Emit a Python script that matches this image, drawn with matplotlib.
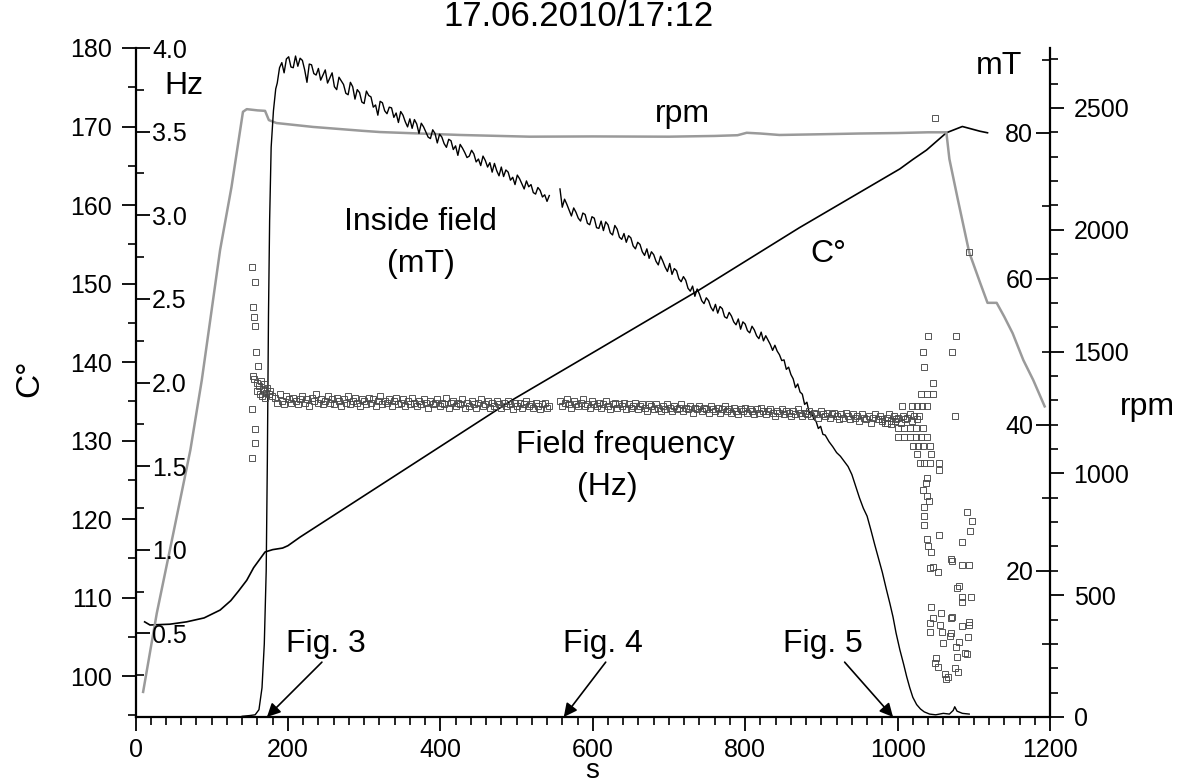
import matplotlib.pyplot as plt
import numpy as np
from matplotlib.ticker import MultipleLocator, FixedLocator

plt.rcParams['font.family'] = ['Liberation Sans', 'DejaVu Sans']

# ---- data ----
# rotor speed (rpm)
rpm_t = [10, 28, 50, 72, 87, 111, 126, 141, 146, 160, 170, 175, 185, 233, 298, 321, 426, 517,
         600, 700, 760, 790, 802, 820, 845, 900, 950, 1000, 1040, 1064, 1068, 1079, 1094, 1108,
         1118, 1130, 1140, 1151, 1165, 1178, 1193]
rpm_v = [103, 427, 760, 1096, 1383, 1917, 2176, 2484, 2495, 2490, 2488, 2450, 2438, 2422, 2406,
         2401, 2389, 2382, 2383, 2382, 2385, 2388, 2398, 2395, 2389, 2392, 2395, 2397, 2400, 2400,
         2290, 2125, 1907, 1785, 1700, 1700, 1643, 1575, 1465, 1383, 1275]

# temperature (C°)
temp_t = [12, 19, 45, 67, 90, 111, 125, 135, 146, 155, 170, 180, 193, 200, 216, 495, 609, 740,
          871, 1003, 1020, 1038, 1064, 1085, 1108, 1118]
temp_v = [106.9, 106.5, 106.6, 106.9, 107.4, 108.4, 109.6, 110.8, 112.2, 113.8, 115.8, 116.1,
          116.3, 116.6, 117.7, 135.2, 141.7, 149.2, 157.1, 164.6, 165.8, 167.0, 169.2, 170.0,
          169.4, 169.2]

# inside field (mT)
field_rise_t = [140, 150, 157, 162, 166, 169, 171.5, 173, 174.5, 176, 178, 181, 184]
field_rise_v = [0.1, 0.2, 0.3, 1.0, 4.0, 10, 20, 35, 55, 68, 78, 83, 86.0]
field_a_start = 186  # every 3 s up to 543
field_a = [86.8, 88.9, 89.6, 88.2, 90.1, 90.4, 89.0, 88.9, 90.5, 89.1,
           90.2, 89.9, 88.6, 86.9, 89.4, 89.3, 88.1, 87.9, 88.8, 87.2,
           87.9, 88.6, 86.8, 87.5, 88.2, 86.3, 85.9, 87.6, 87.1, 86.6,
           85.4, 85.2, 86.9, 86.3, 84.6, 85.9, 85.5, 84.2, 84.0, 85.7,
           85.1, 84.9, 83.5, 83.8, 82.4, 84.3, 84.1, 83.0, 82.6, 83.5,
           83.4, 82.1, 82.7, 81.4, 82.9, 82.4, 81.5, 80.8, 81.9, 80.6,
           81.8, 81.2, 79.9, 81.3, 80.8, 80.1, 79.4, 79.2, 80.4, 79.9,
           78.6, 79.8, 79.4, 78.5, 78.0, 79.1, 78.9, 77.7, 78.2, 76.9,
           78.4, 77.9, 77.3, 76.6, 76.8, 77.6, 77.1, 76.0, 76.4, 75.5,
           76.8, 76.2, 75.3, 75.9, 74.6, 75.8, 74.8, 74.1, 75.3, 74.0,
           74.9, 74.6, 73.5, 73.9, 72.9, 74.2, 73.7, 73.0, 72.3, 73.4,
           72.6, 72.9, 71.8, 71.6, 72.5, 72.1, 71.2, 71.5, 70.6, 71.4]
field_b_start = 557  # every 3 s up to 902
field_b = [72.3, 69.8, 70.9, 70.2, 69.4, 68.6, 69.7, 69.1, 68.3, 67.9,
           69.0, 68.8, 67.6, 67.4, 68.5, 68.3, 67.0, 66.9, 67.9, 66.6,
           67.8, 67.4, 66.3, 66.0, 67.3, 66.8, 65.7, 65.4, 66.2, 65.0,
           65.9, 65.6, 64.5, 64.1, 65.0, 64.7, 63.7, 63.2, 64.1, 62.8,
           63.7, 63.3, 62.4, 61.9, 63.1, 62.4, 61.6, 61.0, 62.1, 60.6,
           61.4, 61.1, 60.0, 59.6, 60.3, 59.8, 58.7, 58.3, 59.0, 57.6,
           58.6, 57.9, 57.0, 56.6, 57.4, 57.0, 56.1, 55.6, 56.5, 55.3,
           56.2, 55.9, 54.8, 54.6, 55.4, 54.9, 54.1, 53.7, 54.5, 53.1,
           54.1, 53.8, 52.9, 52.6, 53.5, 53.0, 52.2, 51.8, 52.7, 51.5,
           52.2, 51.6, 51.0, 50.2, 50.9, 50.1, 49.6, 48.8, 48.9, 47.6,
           47.9, 46.9, 46.3, 45.1, 45.6, 44.5, 44.2, 42.8, 43.1, 41.7,
           41.8, 40.8, 40.5, 39.5, 39.8, 38.7]
field_tail_t = [905, 910, 915, 920, 925, 930, 935, 940, 945, 950, 955, 960, 965, 970, 976, 980,
                985, 990, 994, 998, 1003, 1008, 1012, 1016, 1020, 1025, 1030, 1035, 1042, 1050,
                1060, 1068, 1073, 1075, 1078, 1085, 1094]
field_tail_v = [38.6, 37.7, 37.0, 36.2, 35.7, 35.0, 34.3, 33.2, 31.6, 30.0, 28.6, 27.5, 25.6,
                23.6, 21.3, 19.8, 17.6, 15.5, 13.7, 11.5, 9.2, 7.2, 5.5, 4.0, 2.7, 1.7, 1.1, 0.7,
                0.4, 0.3, 0.5, 0.4, 0.9, 1.4, 0.8, 0.5, 0.4]

# field frequency (Hz)
freq_start_t = [153, 157, 154, 156, 157, 158, 161, 154, 156, 159, 162, 165, 167, 169, 171, 173,
                175, 177, 179, 160, 163, 166, 168, 170, 153, 157, 157, 153]
freq_start_v = [2.69, 2.60, 2.45, 2.39, 2.34, 2.18, 2.10, 2.04, 2.02, 2.00, 1.98, 2.01, 1.96,
                1.99, 1.94, 1.97, 1.93, 1.95, 1.92, 1.95, 1.93, 1.92, 1.95, 1.91, 1.84, 1.72,
                1.64, 1.55]
freq_a_start = 183  # every 3 s up to 543
freq_a = [1.91, 1.88, 1.93, 1.89, 1.87, 1.92, 1.90, 1.88, 1.91, 1.89,
          1.87, 1.90, 1.92, 1.88, 1.90, 1.86, 1.91, 1.89, 1.93, 1.88,
          1.90, 1.87, 1.89, 1.92, 1.88, 1.90, 1.87, 1.91, 1.89, 1.86,
          1.90, 1.88, 1.92, 1.87, 1.89, 1.91, 1.88, 1.86, 1.90, 1.89,
          1.87, 1.91, 1.88, 1.90, 1.86, 1.89, 1.92, 1.87, 1.89, 1.88,
          1.90, 1.86, 1.89, 1.91, 1.87, 1.88, 1.90, 1.86, 1.89, 1.87,
          1.91, 1.88, 1.86, 1.89, 1.87, 1.90, 1.88, 1.85, 1.89, 1.87,
          1.88, 1.90, 1.86, 1.88, 1.87, 1.91, 1.85, 1.88, 1.89, 1.86,
          1.88, 1.87, 1.90, 1.85, 1.88, 1.86, 1.89, 1.87, 1.85, 1.88,
          1.90, 1.86, 1.87, 1.89, 1.85, 1.88, 1.86, 1.89, 1.87, 1.85,
          1.88, 1.86, 1.89, 1.87, 1.84, 1.88, 1.86, 1.88, 1.85, 1.87,
          1.89, 1.86, 1.87, 1.85, 1.88, 1.86, 1.84, 1.87, 1.88, 1.85, 1.86]
freq_b_start = 557  # every 3 s up to 1028
freq_b = [1.89, 1.86, 1.88, 1.90, 1.87, 1.85, 1.89, 1.87, 1.86, 1.88,
          1.90, 1.86, 1.87, 1.85, 1.89, 1.87, 1.86, 1.88, 1.85, 1.87,
          1.89, 1.86, 1.84, 1.87, 1.88, 1.85, 1.87, 1.86, 1.88, 1.84,
          1.87, 1.85, 1.86, 1.88, 1.84, 1.86, 1.87, 1.85, 1.83, 1.87,
          1.86, 1.84, 1.87, 1.85, 1.83, 1.86, 1.84, 1.87, 1.85, 1.83,
          1.86, 1.84, 1.85, 1.87, 1.83, 1.85, 1.84, 1.86, 1.82, 1.85,
          1.84, 1.86, 1.83, 1.85, 1.84, 1.82, 1.86, 1.84, 1.83, 1.85,
          1.82, 1.84, 1.86, 1.83, 1.84, 1.82, 1.85, 1.83, 1.81, 1.84,
          1.83, 1.85, 1.82, 1.84, 1.83, 1.81, 1.84, 1.82, 1.85, 1.83,
          1.81, 1.83, 1.84, 1.82, 1.80, 1.83, 1.82, 1.84, 1.81, 1.83,
          1.82, 1.80, 1.83, 1.81, 1.84, 1.82, 1.80, 1.82, 1.81, 1.83,
          1.80, 1.82, 1.81, 1.79, 1.83, 1.81, 1.80, 1.82, 1.79, 1.81,
          1.82, 1.80, 1.78, 1.81, 1.79, 1.82, 1.80, 1.78, 1.81, 1.79,
          1.80, 1.77, 1.81, 1.79, 1.78, 1.80, 1.76, 1.79, 1.81, 1.78,
          1.80, 1.78, 1.76, 1.79, 1.81, 1.77, 1.80, 1.78, 1.79, 1.76,
          1.80, 1.78, 1.79, 1.81, 1.77, 1.80, 1.78, 1.80]
freq_tail_t = [1040, 1076, 1033, 1072, 1035, 1046, 1031, 1038, 1046, 1006, 1019, 1025, 1032, 1038,
               1075, 980, 986, 992, 997, 1000, 1008, 1016, 1024, 1033, 1000, 1008, 1016, 1024,
               1031, 1039, 1020, 1027, 1034, 1042, 1026, 1044, 1029, 1035, 1042, 1055, 1055,
               1038, 1037, 1033, 1039, 1041, 1035, 1091, 1097, 1035, 1095, 1035, 1055, 1084,
               1038, 1040, 1044, 1070, 1071, 1084, 1094, 1042, 1046, 1053, 1080, 1078, 1085,
               1096, 1084, 1044, 1057, 1072, 1070, 1046, 1043, 1094, 1094, 1056, 1084, 1042,
               1058, 1070, 1069, 1092, 1081, 1059, 1076, 1089, 1091, 1078, 1051, 1049, 1053,
               1075, 1079, 1062, 1066, 1064, 1049, 1094]
freq_tail_v = [2.28, 2.28, 2.18, 2.18, 2.09, 2.00, 1.93, 1.93, 1.93, 1.86, 1.86, 1.86, 1.86, 1.86,
               1.80, 1.77, 1.76, 1.75, 1.77, 1.73, 1.73, 1.73, 1.73, 1.73, 1.675, 1.675, 1.675,
               1.675, 1.675, 1.675, 1.62, 1.62, 1.62, 1.62, 1.57, 1.57, 1.52, 1.52, 1.52, 1.52,
               1.475, 1.43, 1.40, 1.36, 1.32, 1.29, 1.255, 1.225, 1.17, 1.20, 1.115, 1.145,
               1.09, 1.045, 1.065, 1.025, 0.985, 0.945, 0.93, 0.91, 0.91, 0.89, 0.895, 0.865,
               0.785, 0.77, 0.72, 0.72, 0.69, 0.66, 0.62, 0.60, 0.59, 0.59, 0.565, 0.57, 0.55,
               0.55, 0.545, 0.51, 0.51, 0.50, 0.485, 0.48, 0.45, 0.44, 0.42, 0.38, 0.375, 0.36,
               0.35, 0.32, 0.30, 0.29, 0.27, 0.26, 0.24, 0.23, 3.58, 2.78]

# ---- assemble series ----
fa_t = field_a_start + 3 * np.arange(len(field_a))
fb_t = field_b_start + 3 * np.arange(len(field_b))
field_t = np.concatenate([field_rise_t, fa_t, [550], fb_t, field_tail_t])
field_v = np.concatenate([field_rise_v, field_a, [np.nan], field_b, field_tail_v])

qa_t = freq_a_start + 3 * np.arange(len(freq_a))
qb_t = freq_b_start + 3 * np.arange(len(freq_b))
freq_t = np.concatenate([freq_start_t, qa_t, qb_t, freq_tail_t])
freq_v = np.concatenate([freq_start_v, freq_a, freq_b, freq_tail_v])

W, H = 1178, 783


def fpos(x, y):
    return x / W, 1 - y / H


fig = plt.figure(figsize=(W / 100, H / 100), dpi=100)
rect = [135.5 / W, 66 / H, 914.5 / W, 669 / H]
ax = fig.add_axes(rect)
ax_rpm = fig.add_axes(rect, sharex=ax)
ax_mt = fig.add_axes(rect, sharex=ax)
ax_hz = fig.add_axes(rect, sharex=ax)

maj = dict(length=10, width=1.3, labelsize=18)
mnr = dict(length=5.5, width=1.2)

for a in (ax_rpm, ax_mt, ax_hz):
    a.patch.set_visible(False)
    for s in a.spines.values():
        s.set_visible(False)
    a.xaxis.set_visible(False)

# C° axis (left, outward) and x axis
ax.spines['top'].set_visible(False)
ax.spines['right'].set_visible(False)
ax.spines['left'].set_linewidth(1.6)
ax.spines['bottom'].set_linewidth(1.6)
ax.set_xlim(0, 1200)
ax.set_ylim(94.78, 180)
ax.xaxis.set_major_locator(MultipleLocator(200))
ax.xaxis.set_minor_locator(MultipleLocator(20))
ax.yaxis.set_major_locator(MultipleLocator(10))
ax.yaxis.set_minor_locator(MultipleLocator(5))
ax.tick_params(which='major', direction='out', pad=7, **maj)
ax.tick_params(which='minor', direction='out', **mnr)
ax.tick_params(axis='x', which='major', pad=5)

# Hz axis (same spine, ticks and labels to the inside)
ax_hz.set_ylim(0, 4.0)
ax_hz.yaxis.tick_right()
ax_hz.spines['right'].set_position(('axes', 0))
ax_hz.yaxis.set_major_locator(FixedLocator(np.arange(0.5, 4.01, 0.5)))
ax_hz.yaxis.set_minor_locator(MultipleLocator(0.25))
ax_hz.yaxis.set_major_formatter(plt.FuncFormatter(lambda v, p: f'{v:.1f}'))
ax_hz.tick_params(which='major', direction='out', pad=2, **maj)
ax_hz.tick_params(which='minor', direction='out', **mnr)

# mT axis (right spine, ticks and labels to the inside)
ax_mt.set_ylim(0, 91.6)
ax_mt.yaxis.tick_left()
ax_mt.spines['left'].set_position(('axes', 1))
ax_mt.yaxis.set_major_locator(FixedLocator([20, 40, 60, 80]))
ax_mt.yaxis.set_minor_locator(FixedLocator([10, 30, 50, 70, 90]))
ax_mt.tick_params(which='major', direction='out', pad=2, **maj)
ax_mt.tick_params(which='minor', direction='out', **mnr)

# rpm axis (right, outward)
ax_rpm.set_ylim(0, 2746)
ax_rpm.yaxis.tick_right()
ax_rpm.spines['right'].set_visible(True)
ax_rpm.spines['right'].set_linewidth(1.6)
ax_rpm.yaxis.set_major_locator(MultipleLocator(500))
ax_rpm.yaxis.set_minor_locator(MultipleLocator(100))
ax_rpm.tick_params(which='major', direction='out', pad=7, **maj)
ax_rpm.tick_params(which='minor', direction='out', **mnr)

# ---- series ----
ax_rpm.plot(rpm_t, rpm_v, color='#9a9a9a', lw=1.8, zorder=1)
ax.plot(temp_t, temp_v, color='black', lw=1.2)
ax_mt.plot(field_t, field_v, color='black', lw=1.0)
ax_hz.plot(freq_t, freq_v, ls='none', marker='s', ms=4.0, mfc='none',
           mec='#4a4a4a', mew=0.65)

# ---- arrows ----
arrow_tips = [172.5, 562, 994]
arrow_tails = [244.6, 617, 930.5]
for tip, tail in zip(arrow_tips, arrow_tails):
    ax.annotate('', xy=(tip, 0), xycoords=('data', 'axes fraction'),
                xytext=(tail, 0.082), textcoords=('data', 'axes fraction'),
                arrowprops=dict(arrowstyle='-|>', mutation_scale=20, lw=1.2,
                                color='black', shrinkA=0, shrinkB=0))

# ---- texts ----
big = 23
fig.text(*fpos(578, 16), '17.06.2010/17:12', ha='center', va='center', fontsize=25)
fig.text(*fpos(184, 86), 'Hz', ha='center', va='center', fontsize=big)
fig.text(*fpos(999, 66), 'mT', ha='center', va='center', fontsize=big)
fig.text(*fpos(1120, 415), 'rpm', ha='left', va='baseline', fontsize=big)
fig.text(*fpos(30, 378), 'C°', ha='center', va='center', rotation=90, fontsize=24)
fig.text(*fpos(592, 778), 's', ha='center', va='baseline', fontsize=20)
fig.text(*fpos(655, 122), 'rpm', ha='left', va='baseline', fontsize=big)
fig.text(*fpos(810, 262), 'C°', ha='left', va='baseline', fontsize=big)
fig.text(*fpos(420, 230), 'Inside field', ha='center', va='baseline', fontsize=big)
fig.text(*fpos(421, 272), '(mT)', ha='center', va='baseline', fontsize=big)
fig.text(*fpos(625, 453), 'Field frequency', ha='center', va='baseline', fontsize=big)
fig.text(*fpos(607, 495), '(Hz)', ha='center', va='baseline', fontsize=big)
fig.text(*fpos(286, 652), 'Fig. 3', ha='left', va='baseline', fontsize=big)
fig.text(*fpos(563, 652), 'Fig. 4', ha='left', va='baseline', fontsize=big)
fig.text(*fpos(783, 652), 'Fig. 5', ha='left', va='baseline', fontsize=big)

fig.savefig('out.png', dpi=100)
